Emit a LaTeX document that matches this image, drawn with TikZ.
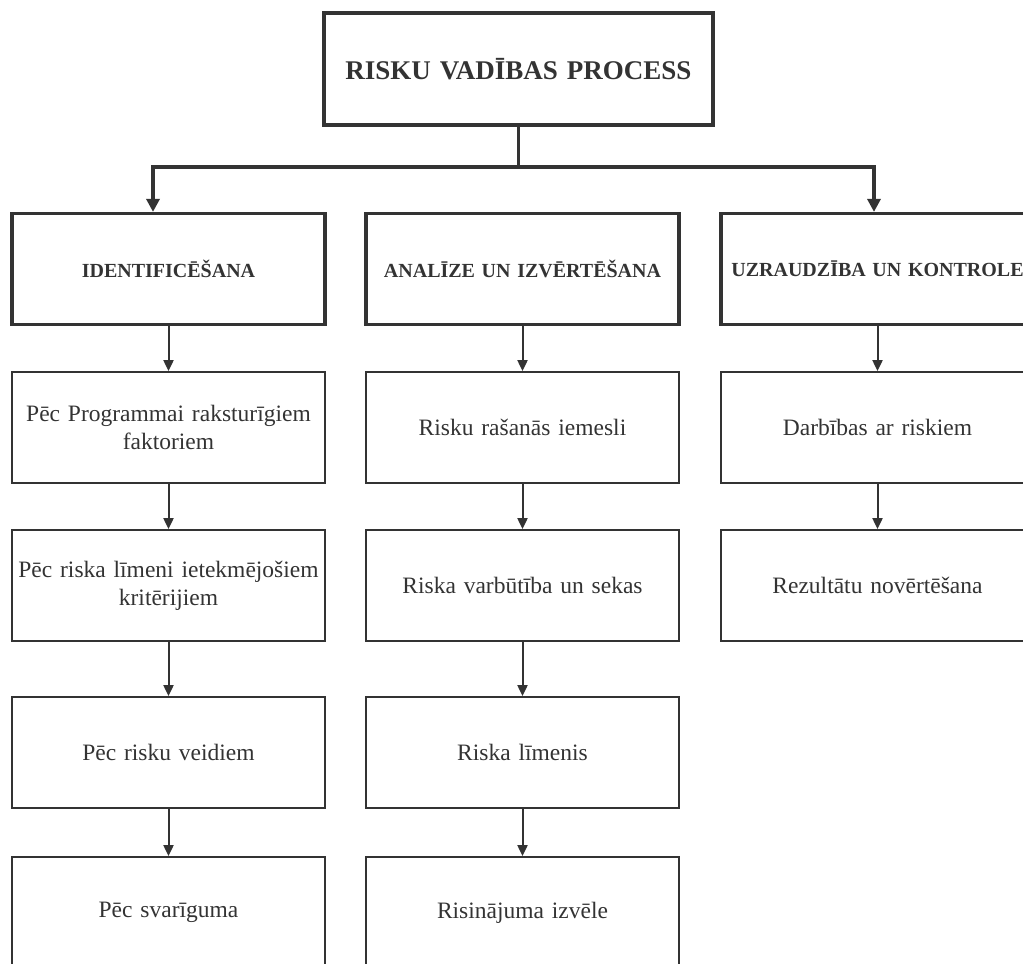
\documentclass[tikz,border=0pt]{standalone}
\usepackage{fontspec}
\setmainfont{Liberation Serif}
\usetikzlibrary{arrows.meta}
\definecolor{ink}{HTML}{333333}

\begin{document}
\begin{tikzpicture}[x=1pt,y=-1pt,
  box/.style={shape=rectangle,draw=ink,line width=1.8pt,text=ink,minimum width=313pt,minimum height=111pt,inner xsep=0pt,text width=313pt,align=center,font=\fontsize{23.5}{28}\selectfont},
  boxG/.style={box,line width=3.2pt,font=\bfseries\fontsize{20}{24}\selectfont},
  boxR/.style={boxG,minimum width=389pt,minimum height=112pt,text width=389pt,font=\bfseries\fontsize{27}{32}\selectfont},
  link/.style={draw=ink,line width=2pt,-{Triangle[length=11pt,width=10pt]}},
  linkG/.style={draw=ink,line width=3.2pt,line join=miter,-{Triangle[length=13pt,width=13pt]}}]
\def\xa{168.5};
\def\xb{522.5};
\def\xc{877.5};
\def\ya{269};
\def\yb{427.5};
\def\yc{585.5};
\def\yd{752.5};
\def\ye{912.5};

\useasboundingbox (0,0) rectangle (1023,964);
\clip (0,0) rectangle (1023,964);

\node[boxR] (root) at (518.5,69) {RISKU VADĪBAS PROCESS};

\node[boxG] (id) at (\xa,\ya) {IDENTIFICĒŠANA};
\node[boxG] (an) at (\xb,\ya) {ANALĪZE UN IZVĒRTĒŠANA};
\node[boxG] (uk) at (\xc,\ya) {UZRAUDZĪBA UN KONTROLE};

\coordinate (jl) at (153,167);
\coordinate (jr) at (874,167);
\draw[linkG] (root.south) |- (jl) -- (jl |- id.north);
\draw[linkG] (root.south) |- (jr) -- (jr |- uk.north);

\node[box] (id1) at (\xa,\yb) {Pēc Programmai raksturīgiem\\faktoriem};
\draw[link] (id.south) -- (id1.north);
\node[box] (id2) at (\xa,\yc) {Pēc riska līmeni ietekmējošiem\\kritērijiem};
\draw[link] (id1.south) -- (id2.north);
\node[box] (id3) at (\xa,\yd) {Pēc risku veidiem};
\draw[link] (id2.south) -- (id3.north);
\node[box] (id4) at (\xa,\ye) {Pēc svarīguma};
\draw[link] (id3.south) -- (id4.north);

\node[box] (an1) at (\xb,\yb) {Risku rašanās iemesli};
\draw[link] (an.south) -- (an1.north);
\node[box] (an2) at (\xb,\yc) {Riska varbūtība un sekas};
\draw[link] (an1.south) -- (an2.north);
\node[box] (an3) at (\xb,\yd) {Riska līmenis};
\draw[link] (an2.south) -- (an3.north);
\node[box] (an4) at (\xb,\ye) {Risinājuma izvēle};
\draw[link] (an3.south) -- (an4.north);

\node[box] (uk1) at (\xc,\yb) {Darbības ar riskiem};
\draw[link] (uk.south) -- (uk1.north);
\node[box] (uk2) at (\xc,\yc) {Rezultātu novērtēšana};
\draw[link] (uk1.south) -- (uk2.north);
\end{tikzpicture}
\end{document}
